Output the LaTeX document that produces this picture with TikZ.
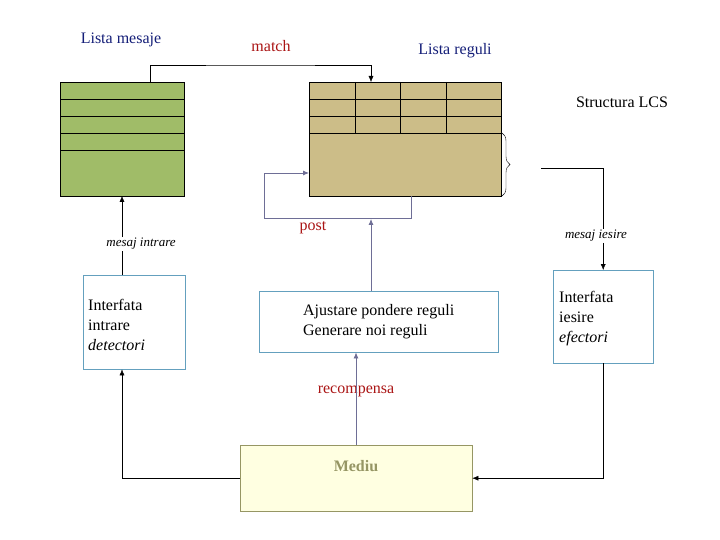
\documentclass[tikz,border=0pt]{standalone}
\usepackage{fontspec}
\setmainfont{Liberation Serif}
\usetikzlibrary{decorations.pathreplacing,arrows.meta}
\definecolor{msggreen}{RGB}{160,188,104}
\definecolor{rulebrown}{RGB}{204,189,136}
\definecolor{flowgrey}{RGB}{110,110,150}
\definecolor{lblue}{RGB}{20,30,120}
\definecolor{lred}{RGB}{170,20,20}
\definecolor{ifblue}{RGB}{100,160,190}
\definecolor{envfill}{RGB}{255,255,225}
\definecolor{envtext}{RGB}{150,150,100}
\tikzset{lbl/.style={font=\fontsize{16}{19}\selectfont},
  iface/.style={draw=ifblue, align=left, anchor=north west, inner sep=0pt, font=\fontsize{16}{20}\selectfont},
  ->-/.style={-{Latex[length=6pt,width=5pt]}}}
\begin{document}
\begin{tikzpicture}[x=1pt, y=-1pt]
\useasboundingbox (0,0) rectangle (720,540);

\node[lbl, text=lblue] (lm) at (121,40) {Lista mesaje};
\node[lbl, text=lred] (mt) at (271,46) {match};
\node[lbl, text=lblue] (lr) at (455,51) {Lista reguli};
\node[lbl] (lcs) at (622,102) {Structura LCS};

% lista mesaje
\draw[fill=msggreen] (60,82) rectangle (184,196);
\foreach \y in {99,116,133,150} \draw (60,\y) -- (184,\y);
\coordinate (msg) at (122,196);
\coordinate (msgtop) at (150,82);

% lista reguli
\draw[fill=rulebrown] (309,82) rectangle (501,196);
\foreach \y in {99,116,133} \draw (309,\y) -- (501,\y);
\foreach \x in {355,400,446} \draw (\x,82) -- (\x,133);
\coordinate (rtop) at (371,82);
\coordinate (rbot) at (411,196);
\coordinate (rleft) at (309,173);
\coordinate (fb) at (371,219);
\draw[decorate, decoration={brace, amplitude=8pt}] (502,133) -- (502,196);

\draw[->-] (msgtop) |- (260,65) -| (rtop);

% interfete
\node[iface, minimum width=99pt, minimum height=94pt, text width=92pt, inner xsep=5pt] (in) at (83,275)
  {\rule{0pt}{16pt}Interfata\\intrare\\\textit{detectori}};
\node[iface, minimum width=96pt, minimum height=93pt, text width=88pt, inner xsep=6pt] (out) at (553,270)
  {\rule{0pt}{16pt}Interfata\\iesire\\\textit{efectori}};
\node[draw=ifblue, minimum width=239pt, minimum height=61pt, font=\fontsize{16}{20}\selectfont, align=left, anchor=north west] (aj) at (259,291)
  {Ajustare pondere reguli\\Generare noi reguli};
\node[draw=envtext, fill=envfill, minimum width=232pt, minimum height=66pt, anchor=north west] (env) at (240,445) {};
\node[font=\bfseries\fontsize{16}{19}\selectfont, text=envtext] (mediu) at (356,466) {Mediu};

% mesaje
\node[font=\itshape\fontsize{13}{16}\selectfont, fill=white, inner sep=1pt] (mi) at (141,244) {mesaj intrare};
\draw (in.north -| msg) -- (mi.south -| msg);
\draw[->-] (mi.north -| msg) -- (msg);
\node[font=\itshape\fontsize{13}{16}\selectfont, fill=white, inner sep=1pt] (mo) at (596,236) {mesaj iesire};
\draw (541,168) -| (mo.north -| out.north);
\draw[->-] (mo.south -| out.north) -- (out.north);

% feedback
\draw[flowgrey, thick, ->-] (rbot) |- (264,218) |- (rleft);
\node[lbl, text=lred] (post) at (313,228) {post};
\draw[flowgrey, thick, ->-] (aj.north -| fb) -- (fb);
\node[lbl, text=lred] (rc) at (356,391) {recompensa};
\draw[flowgrey, thick, ->-] (env.north -| mediu) -- (aj.south -| mediu);

\draw[->-] (out.south) |- (env.east);
\draw[->-] (env.west) -| (in.south -| msg);
\end{tikzpicture}
\end{document}
